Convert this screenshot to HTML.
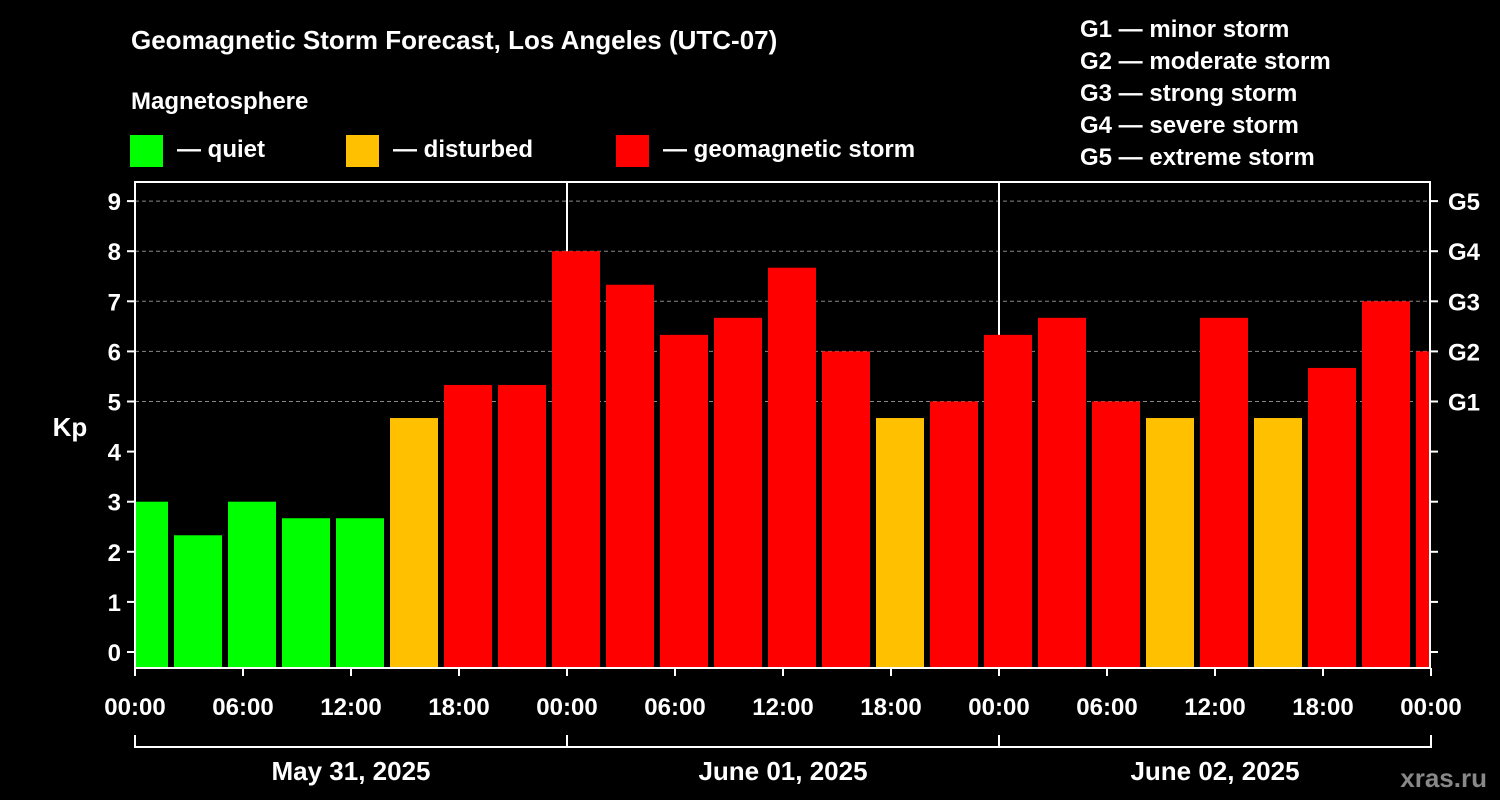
<!DOCTYPE html>
<html><head><meta charset="utf-8"><style>
body{margin:0;background:#000;width:1500px;height:800px;overflow:hidden}
svg{display:block;font-family:"Liberation Sans",Arial,sans-serif;font-weight:bold}
</style></head><body>
<svg id="c" width="1500" height="800">
<text x="131" y="49" fill="#fff" font-size="26">Geomagnetic Storm Forecast, Los Angeles (UTC-07)</text>
<text x="131" y="109" fill="#fff" font-size="24">Magnetosphere</text>
<rect x="130" y="135" width="33" height="32" fill="#00ff00"/>
<text x="177" y="157" fill="#fff" font-size="24">— quiet</text>
<rect x="346" y="135" width="33" height="32" fill="#ffc000"/>
<text x="393" y="157" fill="#fff" font-size="24">— disturbed</text>
<rect x="616" y="135" width="33" height="32" fill="#ff0000"/>
<text x="663" y="157" fill="#fff" font-size="24">— geomagnetic storm</text>
<g fill="#fff" font-size="24">
<text x="1080" y="37">G1 — minor storm</text>
<text x="1080" y="69">G2 — moderate storm</text>
<text x="1080" y="101">G3 — strong storm</text>
<text x="1080" y="133">G4 — severe storm</text>
<text x="1080" y="165">G5 — extreme storm</text>
</g>
<text x="70" y="436" fill="#fff" font-size="26" text-anchor="middle">Kp</text>
<text x="1487" y="787" fill="#888" font-size="26" text-anchor="end">xras.ru</text>
<g id="grid"></g><g id="bars"></g><g id="axes"></g>
</svg>
<script>
const kpValues=[3,2.33,3,2.67,2.67,4.67,5.33,5.33,8,7.33,6.33,6.67,7.67,6,4.67,5,6.33,6.67,5,4.67,6.67,4.67,5.67,7,6];
const barHours=[0.5,3.5,6.5,9.5,12.5,15.5,18.5,21.5,24.5,27.5,30.5,33.5,36.5,39.5,42.5,45.5,48.5,51.5,54.5,57.5,60.5,63.5,66.5,69.5,72.5];
const yTicks=[0,1,2,3,4,5,6,7,8,9];
const gLabels=["G1","G2","G3","G4","G5"];
const gLevels=[5,6,7,8,9];
const xTickLabels=["00:00","06:00","12:00","18:00","00:00","06:00","12:00","18:00","00:00","06:00","12:00","18:00","00:00"];
const dayLabels=["May 31, 2025","June 01, 2025","June 02, 2025"];
const L=135,R=1430,T=182,B=668;
const x=h=>L+h*18;
const y=v=>652-v*50.1;
const NS="http://www.w3.org/2000/svg";
function mk(p,t,a){const e=document.createElementNS(NS,t);for(const k in a)e.setAttribute(k,a[k]);document.getElementById(p).appendChild(e);return e;}
gLevels.forEach(v=>{const e=mk('grid','line',{x1:L,x2:R,y1:y(v),y2:y(v),stroke:'#888','stroke-dasharray':'4,3'});

});
[24,48].forEach(h=>{const e=mk('grid','line',{x1:x(h),x2:x(h),y1:T,y2:B,stroke:'#fff','stroke-width':2});

});
kpValues.forEach((v,i)=>{const cx=x(barHours[i]);let x0=Math.max(L+1,cx-24),x1=Math.min(R,cx+24);
const col=v<4?'#00ff00':(v<5?'#ffc000':'#ff0000');
const e=mk('bars','rect',{x:x0,y:y(v),width:x1-x0,height:B-y(v),fill:col});

});
const fr=mk('axes','rect',{x:L,y:T,width:R-L,height:B-T,fill:'none',stroke:'#fff','stroke-width':2});


yTicks.forEach(v=>{mk('axes','line',{x1:L-8,x2:L,y1:y(v),y2:y(v),stroke:'#fff','stroke-width':2});
mk('axes','line',{x1:R,x2:R+8,y1:y(v),y2:y(v),stroke:'#fff','stroke-width':2});
const t=mk('axes','text',{x:L-14,y:y(v)+9,fill:'#fff','font-size':24,'text-anchor':'end'});t.textContent=v;

});
gLevels.forEach((v,i)=>{const t=mk('axes','text',{x:R+18,y:y(v)+9,fill:'#fff','font-size':24});t.textContent=gLabels[i];

});
xTickLabels.forEach((s,i)=>{const xx=x(i*6);mk('axes','line',{x1:xx,x2:xx,y1:B,y2:B+8,stroke:'#fff','stroke-width':2});
const t=mk('axes','text',{x:xx,y:715,fill:'#fff','font-size':24,'text-anchor':'middle'});t.textContent=s;

});
mk('axes','line',{x1:L,x2:R,y1:747,y2:747,stroke:'#fff','stroke-width':2});
[0,24,48,72].forEach(h=>mk('axes','line',{x1:x(h),x2:x(h),y1:735,y2:748,stroke:'#fff','stroke-width':2}));
dayLabels.forEach((s,i)=>{const t=mk('axes','text',{x:x(i*24+12),y:780,fill:'#fff','font-size':26,'text-anchor':'middle'});t.textContent=s;

});
</script>
</body></html>
